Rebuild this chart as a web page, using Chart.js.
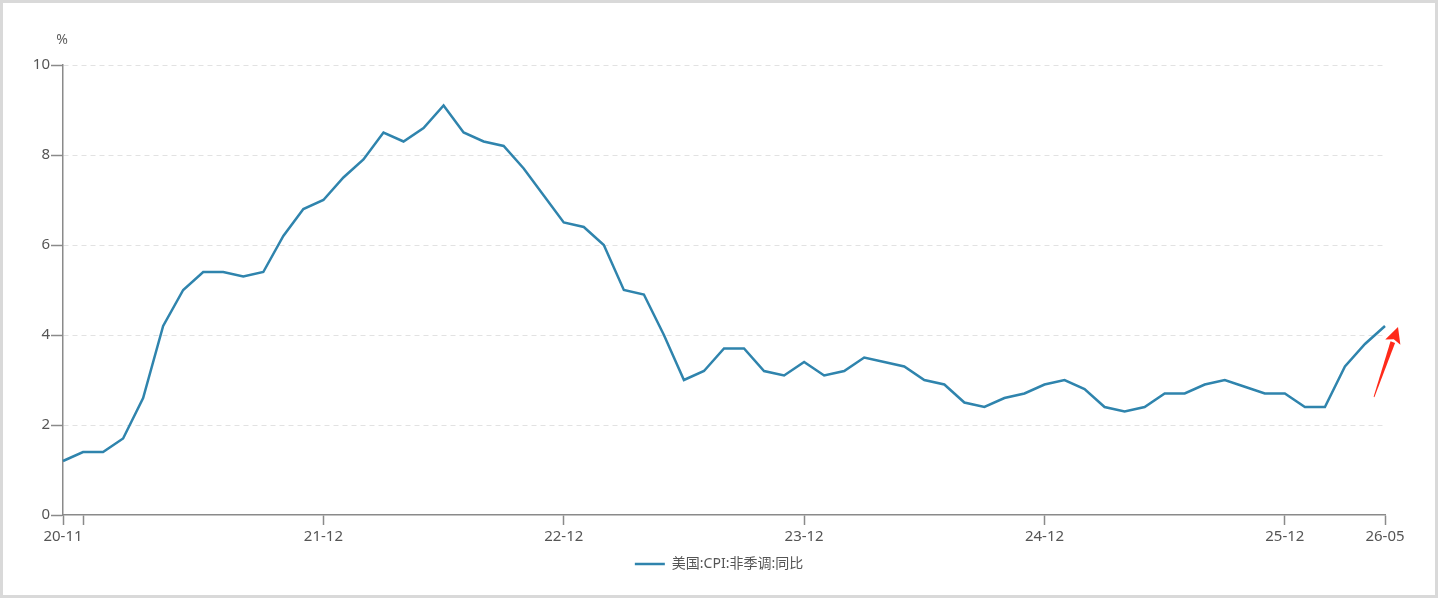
<!DOCTYPE html>
<html>
<head>
<meta charset="utf-8">
<script src="https://cdn.jsdelivr.net/npm/chart.js@4/dist/chart.umd.min.js"></script>
<style>
  html, body { margin: 0; padding: 0; background: #fff; }
  #frame {
    width: 1438px; height: 598px; box-sizing: border-box;
    border: 3px solid #d9d9d9; background: #fff;
  }
  #chart-wrap { position: relative; width: 1432px; height: 592px; }
</style>
</head>
<body>
<div id="frame">
  <div id="chart-wrap"><canvas id="cpi-chart"></canvas></div>
</div>
<script>
// months on the x axis (yy-mm)
const months = [
  '20-11', '20-12',
  '21-01', '21-02', '21-03', '21-04', '21-05', '21-06', '21-07', '21-08', '21-09', '21-10', '21-11', '21-12',
  '22-01', '22-02', '22-03', '22-04', '22-05', '22-06', '22-07', '22-08', '22-09', '22-10', '22-11', '22-12',
  '23-01', '23-02', '23-03', '23-04', '23-05', '23-06', '23-07', '23-08', '23-09', '23-10', '23-11', '23-12',
  '24-01', '24-02', '24-03', '24-04', '24-05', '24-06', '24-07', '24-08', '24-09', '24-10', '24-11', '24-12',
  '25-01', '25-02', '25-03', '25-04', '25-05', '25-06', '25-07', '25-08', '25-09', '25-10', '25-11', '25-12',
  '26-01', '26-02', '26-03', '26-04', '26-05'
];

// US CPI, not seasonally adjusted, y/y %
const cpiYoy = [
  1.2, 1.4,
  1.4, 1.7, 2.6, 4.2, 5.0, 5.4, 5.4, 5.3, 5.4, 6.2, 6.8, 7.0,
  7.5, 7.9, 8.5, 8.3, 8.6, 9.1, 8.5, 8.3, 8.2, 7.7, 7.1, 6.5,
  6.4, 6.0, 5.0, 4.9, 4.0, 3.0, 3.2, 3.7, 3.7, 3.2, 3.1, 3.4,
  3.1, 3.2, 3.5, 3.4, 3.3, 3.0, 2.9, 2.5, 2.4, 2.6, 2.7, 2.9,
  3.0, 2.8, 2.4, 2.3, 2.4, 2.7, 2.7, 2.9, 3.0, 2.85, 2.7, 2.7,
  2.4, 2.4, 3.3, 3.8, 4.2
];

const seriesName = '美国:CPI:非季调:同比';
const unitLabel = '%';

// x ticks that get a tick mark, and those that also get a label
const tickMonths = ['20-11', '20-12', '21-12', '22-12', '23-12', '24-12', '25-12', '26-05'];
const labelMonths = ['20-11', '21-12', '22-12', '23-12', '24-12', '25-12', '26-05'];

const yTicks = [0, 2, 4, 6, 8, 10];

const FONT = '"Noto Sans", "Noto Sans CJK SC", sans-serif';
const LINE_BLUE = '#2f84ad';
const AXIS_GREY = '#8a8a8a';
const TEXT_GREY = '#555555';

// draws the % unit above the y axis and the red arrow next to the last point
const extrasPlugin = {
  id: 'extras',
  afterDatasetsDraw(chart) {
    const ctx = chart.ctx;
    const xs = chart.scales.x;
    const ys = chart.scales.y;

    ctx.save();
    ctx.font = '14px ' + FONT;
    ctx.fillStyle = '#606060';
    ctx.textAlign = 'center';
    ctx.textBaseline = 'middle';
    ctx.fillText(unitLabel, ys.right - 1, chart.chartArea.top - 25);
    ctx.restore();

    // arrow, placed relative to the last data point
    const last = cpiYoy.length - 1;
    const px = xs.getPixelForValue(last);
    const py = ys.getPixelForValue(cpiYoy[last]);
    const tail = { x: px - 11, y: py + 71 };
    const tip = { x: px + 13, y: py + 1 };
    const dx = tip.x - tail.x, dy = tip.y - tail.y;
    const len = Math.sqrt(dx * dx + dy * dy);
    const ux = dx / len, uy = dy / len;
    const nx = -uy, ny = ux;
    const headLen = 16, headHalf = 8;
    const bx = tip.x - ux * headLen, by = tip.y - uy * headLen;

    ctx.save();
    ctx.fillStyle = '#ff2a1a';
    // tapered shaft
    ctx.beginPath();
    ctx.moveTo(tail.x - nx * 0.4, tail.y - ny * 0.4);
    ctx.lineTo(tail.x + nx * 0.4, tail.y + ny * 0.4);
    ctx.lineTo(bx + nx * 2.4, by + ny * 2.4);
    ctx.lineTo(bx - nx * 2.4, by - ny * 2.4);
    ctx.closePath();
    ctx.fill();
    // head
    ctx.beginPath();
    ctx.moveTo(tip.x, tip.y);
    ctx.lineTo(bx + nx * headHalf, by + ny * headHalf);
    ctx.lineTo(bx + ux * 3, by + uy * 3);
    ctx.lineTo(bx - nx * headHalf, by - ny * headHalf);
    ctx.closePath();
    ctx.fill();
    ctx.restore();
  }
};

const cpiChart = new Chart(document.getElementById('cpi-chart'), {
  type: 'line',
  data: {
    labels: months,
    datasets: [{
      label: seriesName,
      data: cpiYoy,
      borderColor: LINE_BLUE,
      backgroundColor: LINE_BLUE,
      borderWidth: 2.5,
      pointRadius: 0,
      pointHoverRadius: 0,
      tension: 0,
      fill: false
    }]
  },
  options: {
    responsive: true,
    maintainAspectRatio: false,
    animation: false,
    layout: {
      padding: { left: 0, right: 0, top: 62, bottom: 14 }
    },
    plugins: {
      tooltip: { enabled: false },
      legend: {
        position: 'bottom',
        labels: {
          usePointStyle: true,
          pointStyle: 'line',
          pointStyleWidth: 30,
          color: TEXT_GREY,
          font: { family: FONT, size: 14 },
          padding: 8
        }
      }
    },
    scales: {
      x: {
        offset: false,
        afterBuildTicks(scale) {
          scale.ticks = tickMonths.map(m => ({ value: months.indexOf(m) }));
        },
        afterFit(scale) {
          scale.height = 34;
        },
        ticks: {
          autoSkip: false,
          maxRotation: 0,
          minRotation: 0,
          padding: 3,
          color: TEXT_GREY,
          font: { family: FONT, size: 15 },
          callback(value) {
            const m = months[value];
            return labelMonths.includes(m) ? m : '';
          }
        },
        grid: {
          drawOnChartArea: false,
          drawTicks: true,
          tickLength: 10,
          tickColor: AXIS_GREY,
          tickWidth: 1.5
        },
        border: { display: true, color: AXIS_GREY, width: 1.5 }
      },
      y: {
        min: 0,
        max: 10,
        afterBuildTicks(scale) {
          scale.ticks = yTicks.map(v => ({ value: v }));
        },
        afterFit(scale) {
          scale.width = 60;
        },
        ticks: {
          padding: 1,
          color: TEXT_GREY,
          font: { family: FONT, size: 15 }
        },
        grid: {
          color: ctx => (ctx.tick && ctx.tick.value === 0) ? 'rgba(0,0,0,0)' : '#e2e2e2',
          lineWidth: 1,
          drawTicks: true,
          tickLength: 12,
          tickColor: AXIS_GREY,
          tickWidth: 1.5
        },
        border: { display: true, color: AXIS_GREY, width: 1.5, dash: [5, 4] }
      },
      // empty right-hand gutter so the legend stays centred on the page
      gutter: {
        type: 'linear',
        position: 'right',
        display: true,
        afterFit(scale) {
          scale.width = 50;
        },
        ticks: { display: false },
        grid: { display: false, drawTicks: false },
        border: { display: false }
      }
    }
  },
  plugins: [extrasPlugin]
});
</script>
</body>
</html>
